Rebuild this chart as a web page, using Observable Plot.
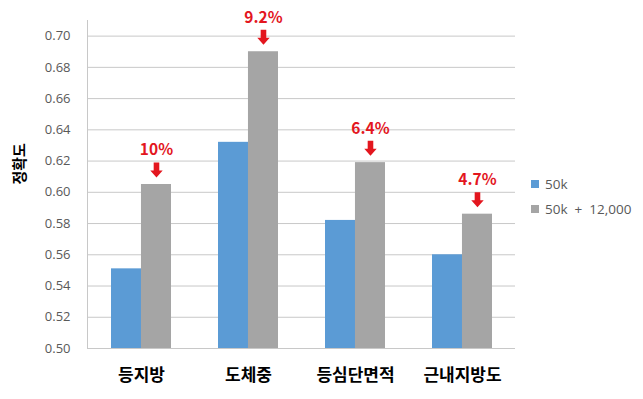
<!DOCTYPE html>
<html>
<head>
<meta charset="utf-8">
<script src="https://cdn.jsdelivr.net/npm/d3@7"></script>
<script src="https://cdn.jsdelivr.net/npm/@observablehq/plot@0.6"></script>
<style>
  body { margin: 0; background: #fff; font-family: "Noto Sans CJK KR", "Noto Sans", sans-serif; }
  #wrap { position: relative; width: 643px; height: 399px; }
  #legend { position: absolute; left: 531px; top: 171px; font-size: 13.5px; color: #595959; font-family: "Open Sans", sans-serif; }
  #legend .row { display: flex; align-items: center; height: 25px; white-space: pre; }
  #legend .sw { width: 8px; height: 8px; margin-right: 6px; }
</style>
</head>
<body>
<div id="wrap"><div id="legend"></div></div>
<script>
const categories = ["등지방", "도체중", "등심단면적", "근내지방도"];
const seriesNames = ["50k", "50k  +  12,000"];
const base = [0.551, 0.632, 0.582, 0.560];
const augmented = [0.605, 0.690, 0.619, 0.586];
const gains = ["10%", "9.2%", "6.4%", "4.7%"];
const yTicks = [0.50, 0.52, 0.54, 0.56, 0.58, 0.60, 0.62, 0.64, 0.66, 0.68, 0.70];
const colors = ["#5b9bd5", "#a5a5a5"];

const W = 643, H = 399, mL = 87, mR = 128, mT = 20, mB = 51;
const pInner = 0.44, pOuter = 0.22;
const step = (W - mL - mR) / (categories.length - pInner + 2 * pOuter);
const bw = step * (1 - pInner);

const rows = categories.map((c, i) => ({cat: c, a: base[i], b: augmented[i], gain: gains[i]}));

const downArrow = {
  draw(ctx) {
    ctx.moveTo(-2.8, -15);
    ctx.lineTo(2.8, -15);
    ctx.lineTo(2.8, -7);
    ctx.lineTo(6.2, -7);
    ctx.lineTo(0, 0);
    ctx.lineTo(-6.2, -7);
    ctx.lineTo(-2.8, -7);
    ctx.closePath();
  }
};

const font = '"Noto Sans CJK KR", "Noto Sans", sans-serif';

const plot = Plot.plot({
  width: W, height: H,
  marginLeft: mL, marginRight: mR, marginTop: mT, marginBottom: mB,
  style: {fontFamily: font, background: "#fff"},
  x: {domain: categories, paddingInner: pInner, paddingOuter: pOuter, label: null},
  y: {domain: [0.5, 0.71], label: null},
  marks: [
    Plot.ruleY(yTicks, {stroke: "#c8c8c8", strokeWidth: 1}),
    Plot.frame({anchor: "left", stroke: "#c8c8c8"}),
    Plot.barY(rows, {x: "cat", y1: 0.5, y2: "a", fill: colors[0], insetRight: bw / 2}),
    Plot.barY(rows, {x: "cat", y1: 0.5, y2: "b", fill: colors[1], insetLeft: bw / 2}),
    Plot.dot(rows, {x: "cat", y: "b", dx: bw / 4, dy: -7, symbol: downArrow, fill: "#e3161e", stroke: null, r: 5}),
    Plot.text(rows, {x: "cat", y: "b", dx: bw / 4, dy: -34, text: "gain", fill: "#e3161e", fontSize: 15.5, fontWeight: "bold"}),
    Plot.axisY({ticks: yTicks, tickFormat: d3.format(".2f"), tickSize: 0, tickPadding: 17, fontSize: 13, color: "#595959", label: null, fontFamily: "Open Sans"}),
    Plot.axisX({tickSize: 0, tickPadding: 20, fontSize: 17, fontWeight: "bold", color: "#000", label: null}),
    Plot.text(["정확도"], {frameAnchor: "left", rotate: -90, dx: -67, fontSize: 15, fontWeight: "bold", fill: "#000"})
  ]
});
document.getElementById("wrap").prepend(plot);

const legend = document.getElementById("legend");
seriesNames.forEach((s, i) => {
  const row = document.createElement("div");
  row.className = "row";
  const sw = document.createElement("span");
  sw.className = "sw";
  sw.style.background = colors[i];
  const t = document.createElement("span");
  t.textContent = s;
  row.append(sw, t);
  legend.append(row);
});
</script>
</body>
</html>
